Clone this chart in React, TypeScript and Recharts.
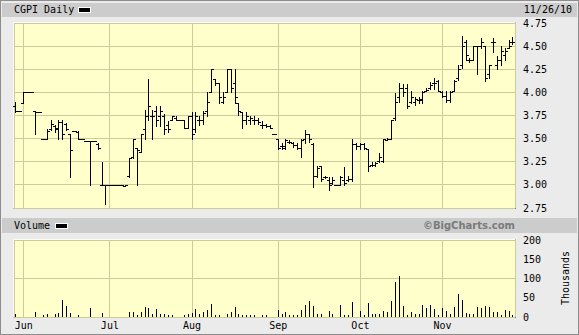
import React from 'react';
import { ComposedChart, BarChart, Bar, XAxis, YAxis, CartesianGrid } from 'recharts';

// trading days shown, 27 May 2010 to 26 Nov 2010
const mayDays = [27, 28];
const junDays = [1, 2, 3, 4, 7, 8, 9, 10, 11, 14, 15, 16, 17, 18, 21, 22, 23, 24, 25, 28, 29, 30];
const julDays = [1, 2, 6, 7, 8, 9, 12, 13, 14, 15, 16, 19, 20, 21, 22, 23, 26, 27, 28, 29, 30];
const augDays = [2, 3, 4, 5, 6, 9, 10, 11, 12, 13, 16, 17, 18, 19, 20, 23, 24, 25, 26, 27, 30, 31];
const sepDays = [1, 2, 3, 7, 8, 9, 10, 13, 14, 15, 16, 17, 20, 21, 22, 23, 24, 27, 28, 29, 30];
const octDays = [1, 4, 5, 6, 7, 8, 11, 12, 13, 14, 15, 18, 19, 20, 21, 22, 25, 26, 27, 28, 29];
const novDays = [1, 2, 3, 4, 5, 8, 9, 10, 11, 12, 15, 16, 17, 18, 19, 22, 23, 24, 26];

const monthTicks = ['6/1', '7/1', '8/2', '9/1', '10/1', '11/1'];
const monthLabels = ['Jun', 'Jul', 'Aug', 'Sep', 'Oct', 'Nov'];

const priceTicks = [2.75, 3, 3.25, 3.5, 3.75, 4, 4.25, 4.5, 4.75];
const volumeTicks = [0, 50, 100, 150, 200];

const opens = [
  3.85, 3.80, 3.89, 4.00, 4.00, 3.80, 3.79, 3.50, 3.50, 3.60, 3.64, 3.60,
  3.68, 3.66, 3.55, 3.58, 3.57, 3.50, 3.47, 3.47, 3.47, 3.44, 3.00, 3.00,
  3.00, 3.00, 3.00, 3.00, 2.99, 3.10, 3.30, 3.40, 3.36, 3.60, 3.75, 3.75,
  3.80, 3.75, 3.75, 3.65, 3.70, 3.72, 3.70, 3.70, 3.62, 3.75, 3.60, 3.70,
  3.70, 3.80, 4.00, 4.14, 4.10, 3.90, 4.00, 4.25, 4.10, 3.89, 3.79, 3.70,
  3.70, 3.70, 3.70, 3.65, 3.65, 3.64, 3.55, 3.50, 3.42, 3.40, 3.46, 3.45,
  3.43, 3.40, 3.50, 3.55, 3.44, 3.10, 3.20, 3.08, 3.05, 3.02, 3.00, 3.00,
  3.05, 3.05, 3.06, 3.44, 3.42, 3.44, 3.39, 3.22, 3.22, 3.26, 3.26, 3.49,
  3.50, 3.72, 3.95, 4.05, 4.05, 3.90, 3.90, 3.92, 3.93, 4.02, 4.05, 4.10,
  4.12, 4.00, 3.96, 3.92, 4.01, 4.15, 4.30, 4.55, 4.35, 4.35, 4.50, 4.50,
  4.50, 4.20, 4.55, 4.30, 4.35, 4.40, 4.48, 4.55,
];
const highs = [
  3.90, 3.80, 4.00, 4.00, 4.00, 3.80, 3.79, 3.50, 3.60, 3.70, 3.65, 3.70,
  3.70, 3.67, 3.55, 3.58, 3.58, 3.50, 3.47, 3.47, 3.47, 3.45, 3.25, 3.00,
  3.00, 3.00, 3.00, 3.00, 3.00, 3.29, 3.50, 3.40, 3.55, 3.81, 4.14, 3.81,
  3.85, 3.85, 3.77, 3.69, 3.75, 3.74, 3.70, 3.70, 3.75, 3.79, 3.79, 3.75,
  3.80, 4.00, 4.25, 4.14, 4.10, 4.00, 4.25, 4.25, 4.25, 3.89, 3.79, 3.79,
  3.75, 3.74, 3.72, 3.69, 3.66, 3.65, 3.55, 3.50, 3.45, 3.50, 3.48, 3.46,
  3.45, 3.50, 3.59, 3.55, 3.45, 3.20, 3.20, 3.10, 3.08, 3.09, 3.00, 3.10,
  3.19, 3.10, 3.50, 3.45, 3.45, 3.45, 3.39, 3.25, 3.25, 3.34, 3.50, 3.51,
  3.70, 3.99, 4.10, 4.09, 4.09, 4.01, 3.95, 3.95, 4.01, 4.05, 4.11, 4.15,
  4.13, 4.01, 4.01, 4.01, 4.13, 4.30, 4.61, 4.57, 4.37, 4.50, 4.50, 4.59,
  4.50, 4.30, 4.59, 4.39, 4.50, 4.48, 4.57, 4.60,
];
const lows = [
  3.79, 3.80, 3.89, 4.00, 4.00, 3.55, 3.79, 3.50, 3.50, 3.59, 3.57, 3.50,
  3.50, 3.59, 3.09, 3.58, 3.50, 3.50, 3.47, 3.00, 3.47, 3.39, 3.00, 2.79,
  3.00, 3.00, 3.00, 3.00, 2.99, 3.09, 3.29, 3.00, 3.36, 3.50, 3.70, 3.50,
  3.64, 3.64, 3.55, 3.57, 3.70, 3.70, 3.70, 3.61, 3.61, 3.50, 3.57, 3.65,
  3.66, 3.75, 4.00, 4.08, 3.89, 3.89, 4.00, 4.00, 3.89, 3.76, 3.61, 3.66,
  3.66, 3.66, 3.66, 3.61, 3.63, 3.61, 3.55, 3.39, 3.39, 3.39, 3.45, 3.41,
  3.39, 3.30, 3.45, 3.46, 2.98, 3.08, 3.04, 3.07, 2.95, 3.01, 3.00, 3.00,
  3.00, 3.04, 3.04, 3.39, 3.39, 3.39, 3.15, 3.20, 3.20, 3.25, 3.25, 3.48,
  3.50, 3.70, 3.90, 3.96, 3.83, 3.89, 3.86, 3.89, 3.89, 4.01, 4.04, 4.04,
  4.01, 3.95, 3.90, 3.90, 4.01, 4.13, 4.26, 4.35, 4.33, 4.35, 4.20, 4.48,
  4.12, 4.15, 4.44, 4.25, 4.30, 4.35, 4.48, 4.52,
];
const closes = [
  3.80, 3.80, 4.00, 4.00, 4.00, 3.79, 3.79, 3.50, 3.58, 3.66, 3.62, 3.68,
  3.55, 3.60, 3.38, 3.58, 3.50, 3.50, 3.47, 3.47, 3.47, 3.40, 3.00, 3.00,
  3.00, 3.00, 3.00, 3.00, 3.00, 3.29, 3.50, 3.38, 3.55, 3.75, 3.85, 3.75,
  3.70, 3.80, 3.60, 3.60, 3.74, 3.70, 3.70, 3.62, 3.75, 3.55, 3.75, 3.70,
  3.78, 3.90, 4.25, 4.10, 3.95, 3.95, 4.25, 4.05, 3.95, 3.80, 3.70, 3.75,
  3.72, 3.70, 3.68, 3.65, 3.64, 3.62, 3.55, 3.40, 3.42, 3.48, 3.46, 3.43,
  3.40, 3.48, 3.55, 3.50, 3.10, 3.18, 3.06, 3.08, 3.00, 3.05, 3.00, 3.08,
  3.02, 3.06, 3.44, 3.42, 3.44, 3.40, 3.20, 3.22, 3.24, 3.30, 3.50, 3.50,
  3.70, 3.90, 4.05, 4.00, 3.85, 3.95, 3.93, 3.92, 4.00, 4.03, 4.08, 4.10,
  4.02, 3.96, 3.92, 4.00, 4.12, 4.25, 4.50, 4.40, 4.35, 4.50, 4.50, 4.55,
  4.15, 4.30, 4.55, 4.35, 4.45, 4.45, 4.50, 4.55,
];
// thousands of shares
const volumes = [
  7, 0, 0, 0, 0, 13, 0, 6, 7, 0, 7, 10,
  43, 28, 10, 0, 5, 0, 0, 23, 0, 0, 10, 0,
  0, 0, 0, 0, 0, 13, 13, 6, 13, 26, 23, 9,
  22, 7, 7, 6, 5, 0, 0, 5, 9, 11, 22, 9,
  13, 17, 33, 6, 6, 0, 9, 12, 27, 9, 6, 6,
  6, 6, 0, 4, 4, 0, 0, 17, 9, 12, 5, 4,
  5, 17, 32, 41, 28, 9, 9, 0, 15, 9, 0, 30,
  4, 4, 39, 0, 15, 4, 37, 7, 7, 7, 15, 13,
  42, 90, 106, 29, 6, 12, 9, 9, 30, 23, 30, 21,
  4, 23, 15, 9, 26, 59, 43, 10, 9, 9, 26, 23,
  28, 26, 13, 13, 6, 17, 15, 6,
];

const days = [
  ...mayDays.map((d) => `5/${d}`),
  ...junDays.map((d) => `6/${d}`),
  ...julDays.map((d) => `7/${d}`),
  ...augDays.map((d) => `8/${d}`),
  ...sepDays.map((d) => `9/${d}`),
  ...octDays.map((d) => `10/${d}`),
  ...novDays.map((d) => `11/${d}`),
];

const rows = days.map((day, k) => ({
  day,
  range: [lows[k], highs[k]],
  open: opens[k],
  high: highs[k],
  low: lows[k],
  close: closes[k],
  volume: volumes[k],
}));

const mono = "'DejaVu Sans Mono', monospace";
const gridColor = '#cccc99';
const plotFill = '#ffffcc';

const monthName = (v: string) => monthLabels[monthTicks.indexOf(v)] ?? '';

// high-low line with open tick on the left and close tick on the right
function OhlcBar(props: any) {
  const { x, y, width, height, payload } = props;
  if (x == null || y == null || !payload) return null;
  const top = Math.min(y, y + height);
  const h = Math.abs(height);
  const span = payload.high - payload.low;
  const at = (v: number) => (span > 0 ? top + ((payload.high - v) / span) * h : top);
  const px = Math.floor(x + width / 2);
  const yo = Math.round(at(payload.open));
  const yc = Math.round(at(payload.close));
  return (
    <g fill="#000" shapeRendering="crispEdges">
      <rect x={px} y={Math.round(top)} width={1} height={Math.max(1, Math.round(top + h) - Math.round(top) + 1)} />
      <rect x={px - 2} y={yo} width={2} height={1} />
      <rect x={px + 1} y={yc} width={2} height={1} />
    </g>
  );
}

function VolumeBar(props: any) {
  const { x, y, width, height } = props;
  if (x == null || !height) return null;
  const top = Math.round(Math.min(y, y + height));
  const bottom = Math.round(Math.max(y, y + height));
  if (bottom - top < 1) return null;
  return <rect x={Math.floor(x + width / 2)} y={top} width={1} height={bottom - top} fill="#000" shapeRendering="crispEdges" />;
}

const swatch: React.CSSProperties = {
  position: 'absolute',
  width: 13,
  height: 6,
  boxSizing: 'border-box',
  background: '#000',
  border: '1px solid #fff',
};

export default function App() {
  return (
    <div
      style={{
        position: 'absolute',
        left: 0,
        top: 0,
        width: 579,
        height: 335,
        background: '#ebebeb',
        boxShadow: 'inset 0 0 0 1px #8c8c8c',
        fontFamily: mono,
        fontSize: 10,
        color: '#000',
        overflow: 'hidden',
      }}
    >
      {/* price header */}
      <div style={{ position: 'absolute', left: 2, top: 3, width: 575, height: 14, background: '#cccccc' }} />
      <div style={{ position: 'absolute', left: 14, top: 3, lineHeight: '14px' }}>CGPI Daily</div>
      <div style={{ ...swatch, left: 78, top: 7 }} />
      <div style={{ position: 'absolute', right: 7, top: 3, lineHeight: '14px' }}>11/26/10</div>

      {/* volume header */}
      <div style={{ position: 'absolute', left: 2, top: 218, width: 575, height: 15, background: '#cccccc' }} />
      <div style={{ position: 'absolute', left: 14, top: 218, lineHeight: '15px' }}>Volume</div>
      <div style={{ ...swatch, left: 55, top: 223 }} />
      <div
        style={{
          position: 'absolute',
          right: 64,
          top: 218,
          lineHeight: '15px',
          fontFamily: "'DejaVu Sans', sans-serif",
          fontWeight: 'bold',
          color: '#7a7a7a',
        }}
      >
        ©BigCharts.com
      </div>

      {/* plot bevels */}
      <div
        style={{
          position: 'absolute',
          left: 13,
          top: 22,
          width: 501,
          height: 185,
          borderTop: '1px solid #fafafa',
          borderLeft: '1px solid #fafafa',
          borderRight: '1px solid #808080',
          borderBottom: '1px solid #808080',
        }}
      />
      <div
        style={{
          position: 'absolute',
          left: 13,
          top: 239,
          width: 501,
          height: 77,
          borderTop: '1px solid #fafafa',
          borderLeft: '1px solid #fafafa',
          borderRight: '1px solid #808080',
          borderBottom: '1px solid #808080',
        }}
      />

      <div style={{ position: 'absolute', left: 0, top: 0 }}>
        <ComposedChart width={579} height={216} data={rows} margin={{ top: 23, right: 0, bottom: 8, left: 14 }}>
          <CartesianGrid stroke={gridColor} fill={plotFill} fillOpacity={1} shapeRendering="crispEdges" />
          <XAxis dataKey="day" ticks={monthTicks} interval={0} hide />
          <YAxis
            orientation="right"
            width={64}
            domain={[2.75, 4.75]}
            ticks={priceTicks}
            allowDataOverflow
            axisLine={false}
            tickLine={false}
            tickSize={6}
            tickMargin={2}
            tickFormatter={(v: number) => v.toFixed(2)}
            tick={{ fill: '#000', fontSize: 10, fontFamily: mono }}
          />
          <Bar dataKey="range" isAnimationActive={false} shape={OhlcBar} />
        </ComposedChart>
      </div>

      <div style={{ position: 'absolute', left: 0, top: 230 }}>
        <BarChart width={579} height={105} data={rows} margin={{ top: 10, right: 0, bottom: 0, left: 14 }}>
          <CartesianGrid stroke={gridColor} fill={plotFill} fillOpacity={1} shapeRendering="crispEdges" />
          <XAxis
            dataKey="day"
            ticks={monthTicks}
            interval={0}
            height={18}
            axisLine={false}
            tickLine={false}
            tickSize={3}
            tickMargin={2}
            tickFormatter={monthName}
            tick={{ fill: '#000', fontSize: 10, fontFamily: mono }}
          />
          <YAxis
            orientation="right"
            width={64}
            domain={[0, 200]}
            ticks={volumeTicks}
            axisLine={false}
            tickLine={false}
            tickSize={6}
            tickMargin={2}
            tick={{ fill: '#000', fontSize: 10, fontFamily: mono }}
          />
          <Bar dataKey="volume" isAnimationActive={false} shape={VolumeBar} />
        </BarChart>
      </div>

      <div
        style={{
          position: 'absolute',
          left: 536,
          top: 272,
          width: 60,
          lineHeight: '12px',
          textAlign: 'center',
          transform: 'rotate(-90deg)',
        }}
      >
        Thousands
      </div>
    </div>
  );
}
